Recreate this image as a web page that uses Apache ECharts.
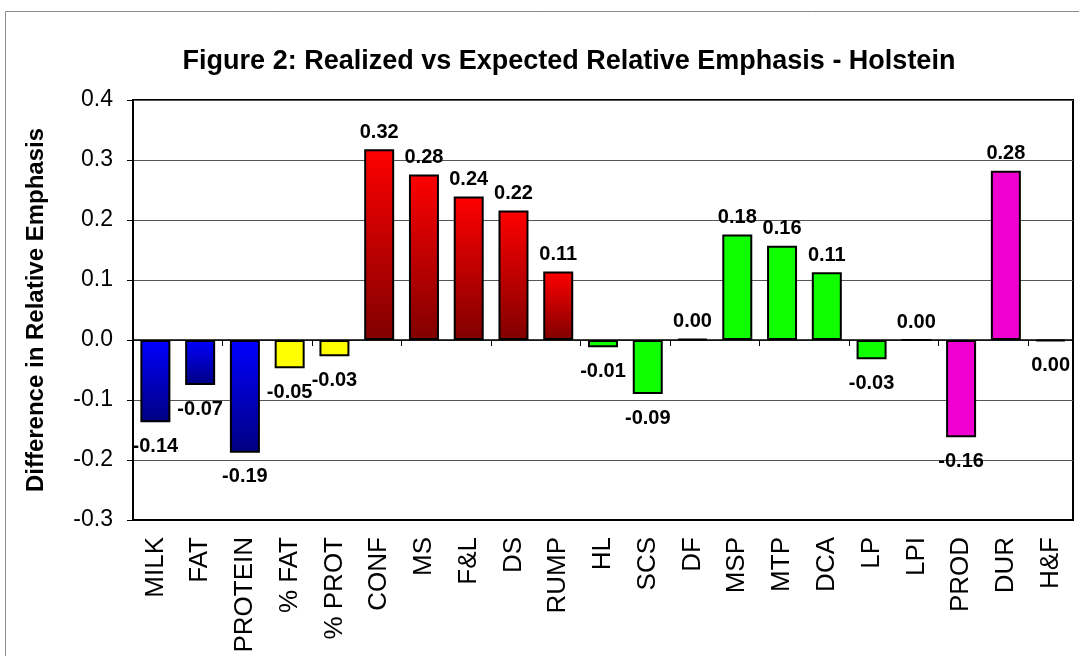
<!DOCTYPE html>
<html>
<head>
    <meta charset="UTF-8">
    <title>Figure 2</title>
    <script src="https://cdn.jsdelivr.net/npm/echarts@6/dist/echarts.min.js"></script>
    <style>
        html, body {
            margin: 0;
            padding: 0;
            background: #fff;
        }

        #chart {
            width: 1079px;
            height: 656px;
        }
    </style>
</head>
<body>
<div id="chart"></div>

<script>
    // 数据
    const categories = ['MILK', 'FAT', 'PROTEIN', '% FAT', '% PROT', 'CONF', 'MS', 'F&L', 'DS', 'RUMP',
        'HL', 'SCS', 'DF', 'MSP', 'MTP', 'DCA', 'LP', 'LPI', 'PROD', 'DUR', 'H&F'];
    const values = [-0.137, -0.075, -0.188, -0.047, -0.027, 0.318, 0.276, 0.239, 0.216, 0.114,
        -0.012, -0.090, 0.002, 0.176, 0.157, 0.113, -0.032, 0, -0.162, 0.282, -0.002];
    const groups = ['prod', 'prod', 'prod', 'pct', 'pct', 'type', 'type', 'type', 'type', 'type',
        'health', 'health', 'health', 'health', 'health', 'health', 'health', 'health', 'index', 'index', 'index'];
    const yTicks = [-0.3, -0.2, -0.1, 0.0, 0.1, 0.2, 0.3, 0.4];

    const font = 'Liberation Sans, Arial, sans-serif';

    // 颜色
    const groupColors = {
        prod: new echarts.graphic.LinearGradient(0, 0, 0, 1, [
            { offset: 0, color: '#0000ff' },
            { offset: 1, color: '#000080' }
        ]),
        pct: '#ffff00',
        type: new echarts.graphic.LinearGradient(0, 0, 0, 1, [
            { offset: 0, color: '#ff0000' },
            { offset: 1, color: '#800000' }
        ]),
        health: '#10ff00',
        index: '#f000d0'
    };

    const barData = values.map((v, i) => ({
        value: v,
        itemStyle: { color: groupColors[groups[i]] },
        label: {
            position: v < 0 ? 'bottom' : 'top',
            distance: v < 0 ? 14 : 7
        }
    }));

    // 去掉 -0.00 的负号
    function fmt2(v) {
        const s = v.toFixed(2);
        return s === '-0.00' ? '0.00' : s;
    }

    const chart = echarts.init(document.getElementById('chart'));

    const option = {
        animation: false,
        backgroundColor: '#fff',
        graphic: [
            {
                type: 'rect',
                left: 3,
                top: 9,
                z: -10,
                shape: { width: 1200, height: 800 },
                style: { fill: 'none', stroke: '#8c8c8c', lineWidth: 1 }
            }
        ],
        title: {
            text: 'Figure 2: Realized vs Expected Relative Emphasis - Holstein',
            left: 564,
            textAlign: 'center',
            top: 43,
            textStyle: {
                fontFamily: font,
                fontSize: 27,
                fontWeight: 'bold',
                color: '#000'
            }
        },
        grid: {
            left: 133,
            right: 6,
            top: 100,
            bottom: 136,
            show: true,
            borderColor: '#000',
            borderWidth: 2,
            containLabel: false
        },
        xAxis: [
            {
                type: 'category',
                data: categories,
                position: 'bottom',
                axisLine: { onZero: false, lineStyle: { color: '#000', width: 2 } },
                axisTick: { show: false },
                axisLabel: {
                    rotate: 90,
                    interval: 0,
                    margin: 17,
                    fontFamily: font,
                    fontSize: 26,
                    color: '#000'
                }
            },
            {
                type: 'category',
                data: categories,
                position: 'bottom',
                axisLine: { onZero: true, lineStyle: { color: '#000', width: 1.5 } },
                axisTick: { show: true, length: 6, lineStyle: { color: '#000', width: 1 } },
                axisLabel: { show: false }
            }
        ],
        yAxis: {
            type: 'value',
            min: yTicks[0],
            max: yTicks[yTicks.length - 1],
            interval: 0.1,
            name: 'Difference in Relative Emphasis',
            nameLocation: 'middle',
            nameGap: 85,
            nameTextStyle: {
                fontFamily: font,
                fontSize: 24,
                fontWeight: 'bold',
                color: '#000'
            },
            axisLine: { show: true, lineStyle: { color: '#000', width: 2 } },
            axisTick: { show: true, length: 6, lineStyle: { color: '#000', width: 1 } },
            axisLabel: {
                margin: 20,
                fontFamily: font,
                fontSize: 23,
                color: '#000',
                formatter: (v) => v.toFixed(1)
            },
            splitLine: { show: true, lineStyle: { color: '#555', width: 1 } }
        },
        series: [
            {
                type: 'bar',
                xAxisIndex: 0,
                data: barData,
                barWidth: '67%',
                itemStyle: { borderColor: '#000', borderWidth: 2 },
                label: {
                    show: true,
                    fontFamily: font,
                    fontSize: 20,
                    fontWeight: 'bold',
                    color: '#000',
                    formatter: (p) => fmt2(p.value)
                }
            }
        ]
    };

    chart.setOption(option);
</script>
</body>
</html>
